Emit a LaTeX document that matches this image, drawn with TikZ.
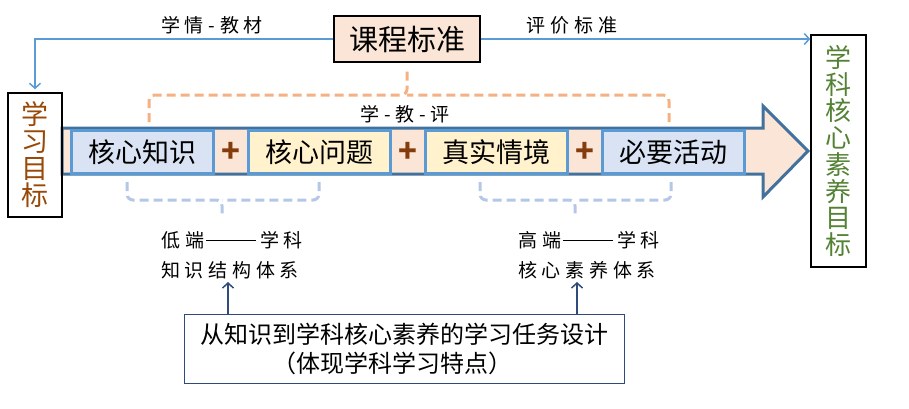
\documentclass[tikz,border=0pt]{standalone}
\usepackage{fontspec}
\newfontfamily\cjk{Noto Sans CJK SC}
\newfontfamily\cjkwide[LetterSpace=25]{Noto Sans CJK SC}
\usetikzlibrary{arrows.meta,positioning}

\definecolor{peach}{HTML}{FBE5D6}
\definecolor{lblue}{HTML}{DAE3F3}
\definecolor{lyellow}{HTML}{FFF2CC}
\definecolor{midblue}{HTML}{5B9BD5}
\definecolor{darkblue}{HTML}{41719C}
\definecolor{rust}{HTML}{843C0C}
\definecolor{goalbrown}{HTML}{984807}
\definecolor{leafgreen}{HTML}{548235}
\definecolor{dashorange}{HTML}{F4B183}
\definecolor{dashblue}{HTML}{B4C7E7}
\definecolor{navy}{HTML}{2F4B7C}

\newcommand{\longdash}{\hspace{2pt}\rule[0.33em]{50pt}{1.3pt}\hspace{4pt}}

\begin{document}
\begin{tikzpicture}[x=1pt,y=-1pt,>={Straight Barb[length=5pt,width=11pt]},node distance=0pt,
    every node/.style={font=\cjk},
    part/.style={draw=midblue,line width=3pt,minimum width=142pt,minimum height=43pt,inner sep=0pt,outer sep=0pt,font=\cjk\fontsize{27}{27}\selectfont},
    plus/.style={minimum width=35pt,inner sep=0pt,outer sep=0pt,text=rust,font=\cjk\bfseries\fontsize{31}{31}\selectfont},
    goalbox/.style={draw=black,line width=1.5pt,inner sep=0pt,align=center},
    note/.style={align=left,font=\cjkwide\fontsize{19}{30}\selectfont},
    link/.style={draw=midblue,line width=1.5pt},
    bracket/.style={line width=3pt,rounded corners=6pt,dash pattern=on 9pt off 5pt}]

    \useasboundingbox (0,0) rectangle (909,408);

    % the big arrow
    \draw[fill=peach,draw=darkblue,line width=3pt,line join=miter] (62,128) -- (763,128) -- (763,106) -- (808,151)
        -- (763,197) -- (763,174) -- (62,174) -- cycle;

    \node[part,fill=lblue] (know) at (142.5,152) {核心知识};
    \node[plus] (p1) [right=of know] {+};
    \node[part,fill=lyellow] (ques) [right=of p1] {核心问题};
    \node[plus] (p2) [right=of ques] {+};
    \node[part,fill=lyellow] (situ) [right=of p2] {真实情境};
    \node[plus] (p3) [right=of situ] {+};
    \node[part,fill=lblue] (act) [right=of p3] {必要活动};

    \node[draw=black,line width=2pt,fill=peach,minimum width=146pt,minimum height=46pt,inner sep=0pt,
        font=\cjk\fontsize{29}{29}\selectfont] (std) at (407,39) {课程标准};

    \node[goalbox,text=goalbrown,minimum width=54pt,minimum height=124pt,font=\cjk\fontsize{27}{27}\selectfont] (goal) at (35,155) {学\\习\\目\\标};
    \node[goalbox,text=leafgreen,minimum width=55pt,minimum height=232pt,font=\cjk\fontsize{26}{26.7}\selectfont] (core) at (838.5,151) {学\\科\\核\\心\\素\\养\\目\\标};

    \node[note] (lc) at (212,25) {学情-教材};
    \node[note] (ev) at (572,25) {评价标准};
    \node[note] (tri) at (405,114) {学-教-评};

    \draw[link,->,shorten >=3pt] (std.west) -| (goal.north);
    \draw[link,->] (std.east) -- (std.east -| core.west);

    % braces
    \coordinate (tk) at (407,95);
    \draw[bracket,draw=dashorange] (149,122) |- (tk) -- (407,68);
    \draw[bracket,draw=dashorange] (669,122) |- (tk);
    \coordinate (lk) at (222,200);
    \draw[bracket,draw=dashblue] (127,182) |- (lk) -- (222,218);
    \draw[bracket,draw=dashblue] (319,182) |- (lk);
    \coordinate (hk) at (575,200);
    \draw[bracket,draw=dashblue] (480,182) |- (hk) -- (575,218);
    \draw[bracket,draw=dashblue] (671,182) |- (hk);

    \node[note] (low) at (232,255) {低端\longdash 学科\\知识结构体系};
    \node[note] (high) at (589,255) {高端\longdash 学科\\核心素养体系};

    \node[draw=navy,line width=1.5pt,minimum width=440pt,minimum height=69pt,align=left,
        font=\cjk\fontsize{24}{29}\selectfont] (task) at (404.5,349) {从知识到学科核心素养的学习任务设计\\\hspace*{3em}（体现学科学习特点）};

    \coordinate (lowtip) at (228,282);
    \coordinate (hightip) at (577,282);
    \draw[->,navy,line width=1.5pt] (task.north -| lowtip) -- (lowtip);
    \draw[->,navy,line width=1.5pt] (task.north -| hightip) -- (hightip);

\end{tikzpicture}
\end{document}
